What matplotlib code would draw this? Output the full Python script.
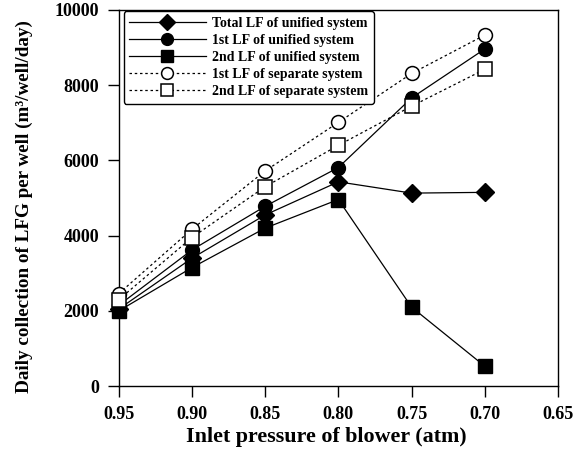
import matplotlib
matplotlib.use("Agg")
import matplotlib.pyplot as plt
from matplotlib.ticker import MultipleLocator

pressure = [0.95, 0.90, 0.85, 0.80, 0.75, 0.70]
total_unified = [2050, 3400, 4550, 5430, 5130, 5150]
first_unified = [2150, 3620, 4780, 5810, 7660, 8960]
second_unified = [2000, 3150, 4200, 4960, 2100, 530]
first_separate = [2460, 4170, 5720, 7010, 8310, 9330]
second_separate = [2300, 3950, 5300, 6400, 7440, 8420]

labels = ["Total LF of unified system", "1st LF of unified system",
          "2nd LF of unified system", "1st LF of separate system",
          "2nd LF of separate system"]
xticks = [0.95, 0.90, 0.85, 0.80, 0.75, 0.70, 0.65]
xticklabels = ["0.95", "0.90", "0.85", "0.80", "0.75", "0.70", "0.65"]

plt.rcParams['font.family'] = ['Liberation Serif', 'DejaVu Serif']
plt.rcParams['font.weight'] = 'bold'

fig = plt.figure(figsize=(5.74, 4.5), dpi=100)
ax = fig.add_axes([0.207, 0.142, 0.765, 0.836])

dash = (0, (2.0, 2.2))
common = dict(color='black', lw=0.9, clip_on=False, zorder=3)
ax.plot(pressure, total_unified, marker='D', ms=9, mfc='black', mec='black',
        label=labels[0], **common)
ax.plot(pressure, first_unified, marker='o', ms=10, mfc='black', mec='black',
        label=labels[1], **common)
ax.plot(pressure, second_unified, marker='s', ms=10, mfc='black', mec='black',
        label=labels[2], **common)
ax.plot(pressure, first_separate, ls=dash, marker='o', ms=10, mfc='white',
        mec='black', mew=1.1, label=labels[3], **common)
ax.plot(pressure, second_separate, ls=dash, marker='s', ms=10, mfc='white',
        mec='black', mew=1.1, label=labels[4], **common)

ax.set_xlim(0.95, 0.65)
ax.set_ylim(0, 10000)
ax.yaxis.set_major_locator(MultipleLocator(2000))
ax.set_xticks(xticks)
ax.set_xticklabels(xticklabels)
ax.tick_params(axis='both', direction='out', length=8, width=1,
               labelsize=13, pad=6)
for lab in ax.get_xticklabels() + ax.get_yticklabels():
    lab.set_fontweight('bold')
for s in ax.spines.values():
    s.set_linewidth(1.0)

ax.set_xlabel("Inlet pressure of blower (atm)", fontsize=15.8,
              fontweight='bold')
ax.set_ylabel("Daily collection of LFG per well (m³/well/day)", fontsize=13.8,
              fontweight='bold')
ax.xaxis.set_label_coords(0.472, -0.108)
ax.yaxis.set_label_coords(-0.195, 0.478)

leg = ax.legend(loc='upper left', bbox_to_anchor=(0.011, 0.997),
                borderaxespad=0.0,
                prop={'weight': 'bold', 'size': 10}, handlelength=5.5,
                markerscale=0.85, labelspacing=0.3, borderpad=0.4,
                handletextpad=0.45, fancybox=True, framealpha=1,
                edgecolor='black')
leg.get_frame().set_linewidth(1.0)

fig.savefig("out.png", dpi=100)
